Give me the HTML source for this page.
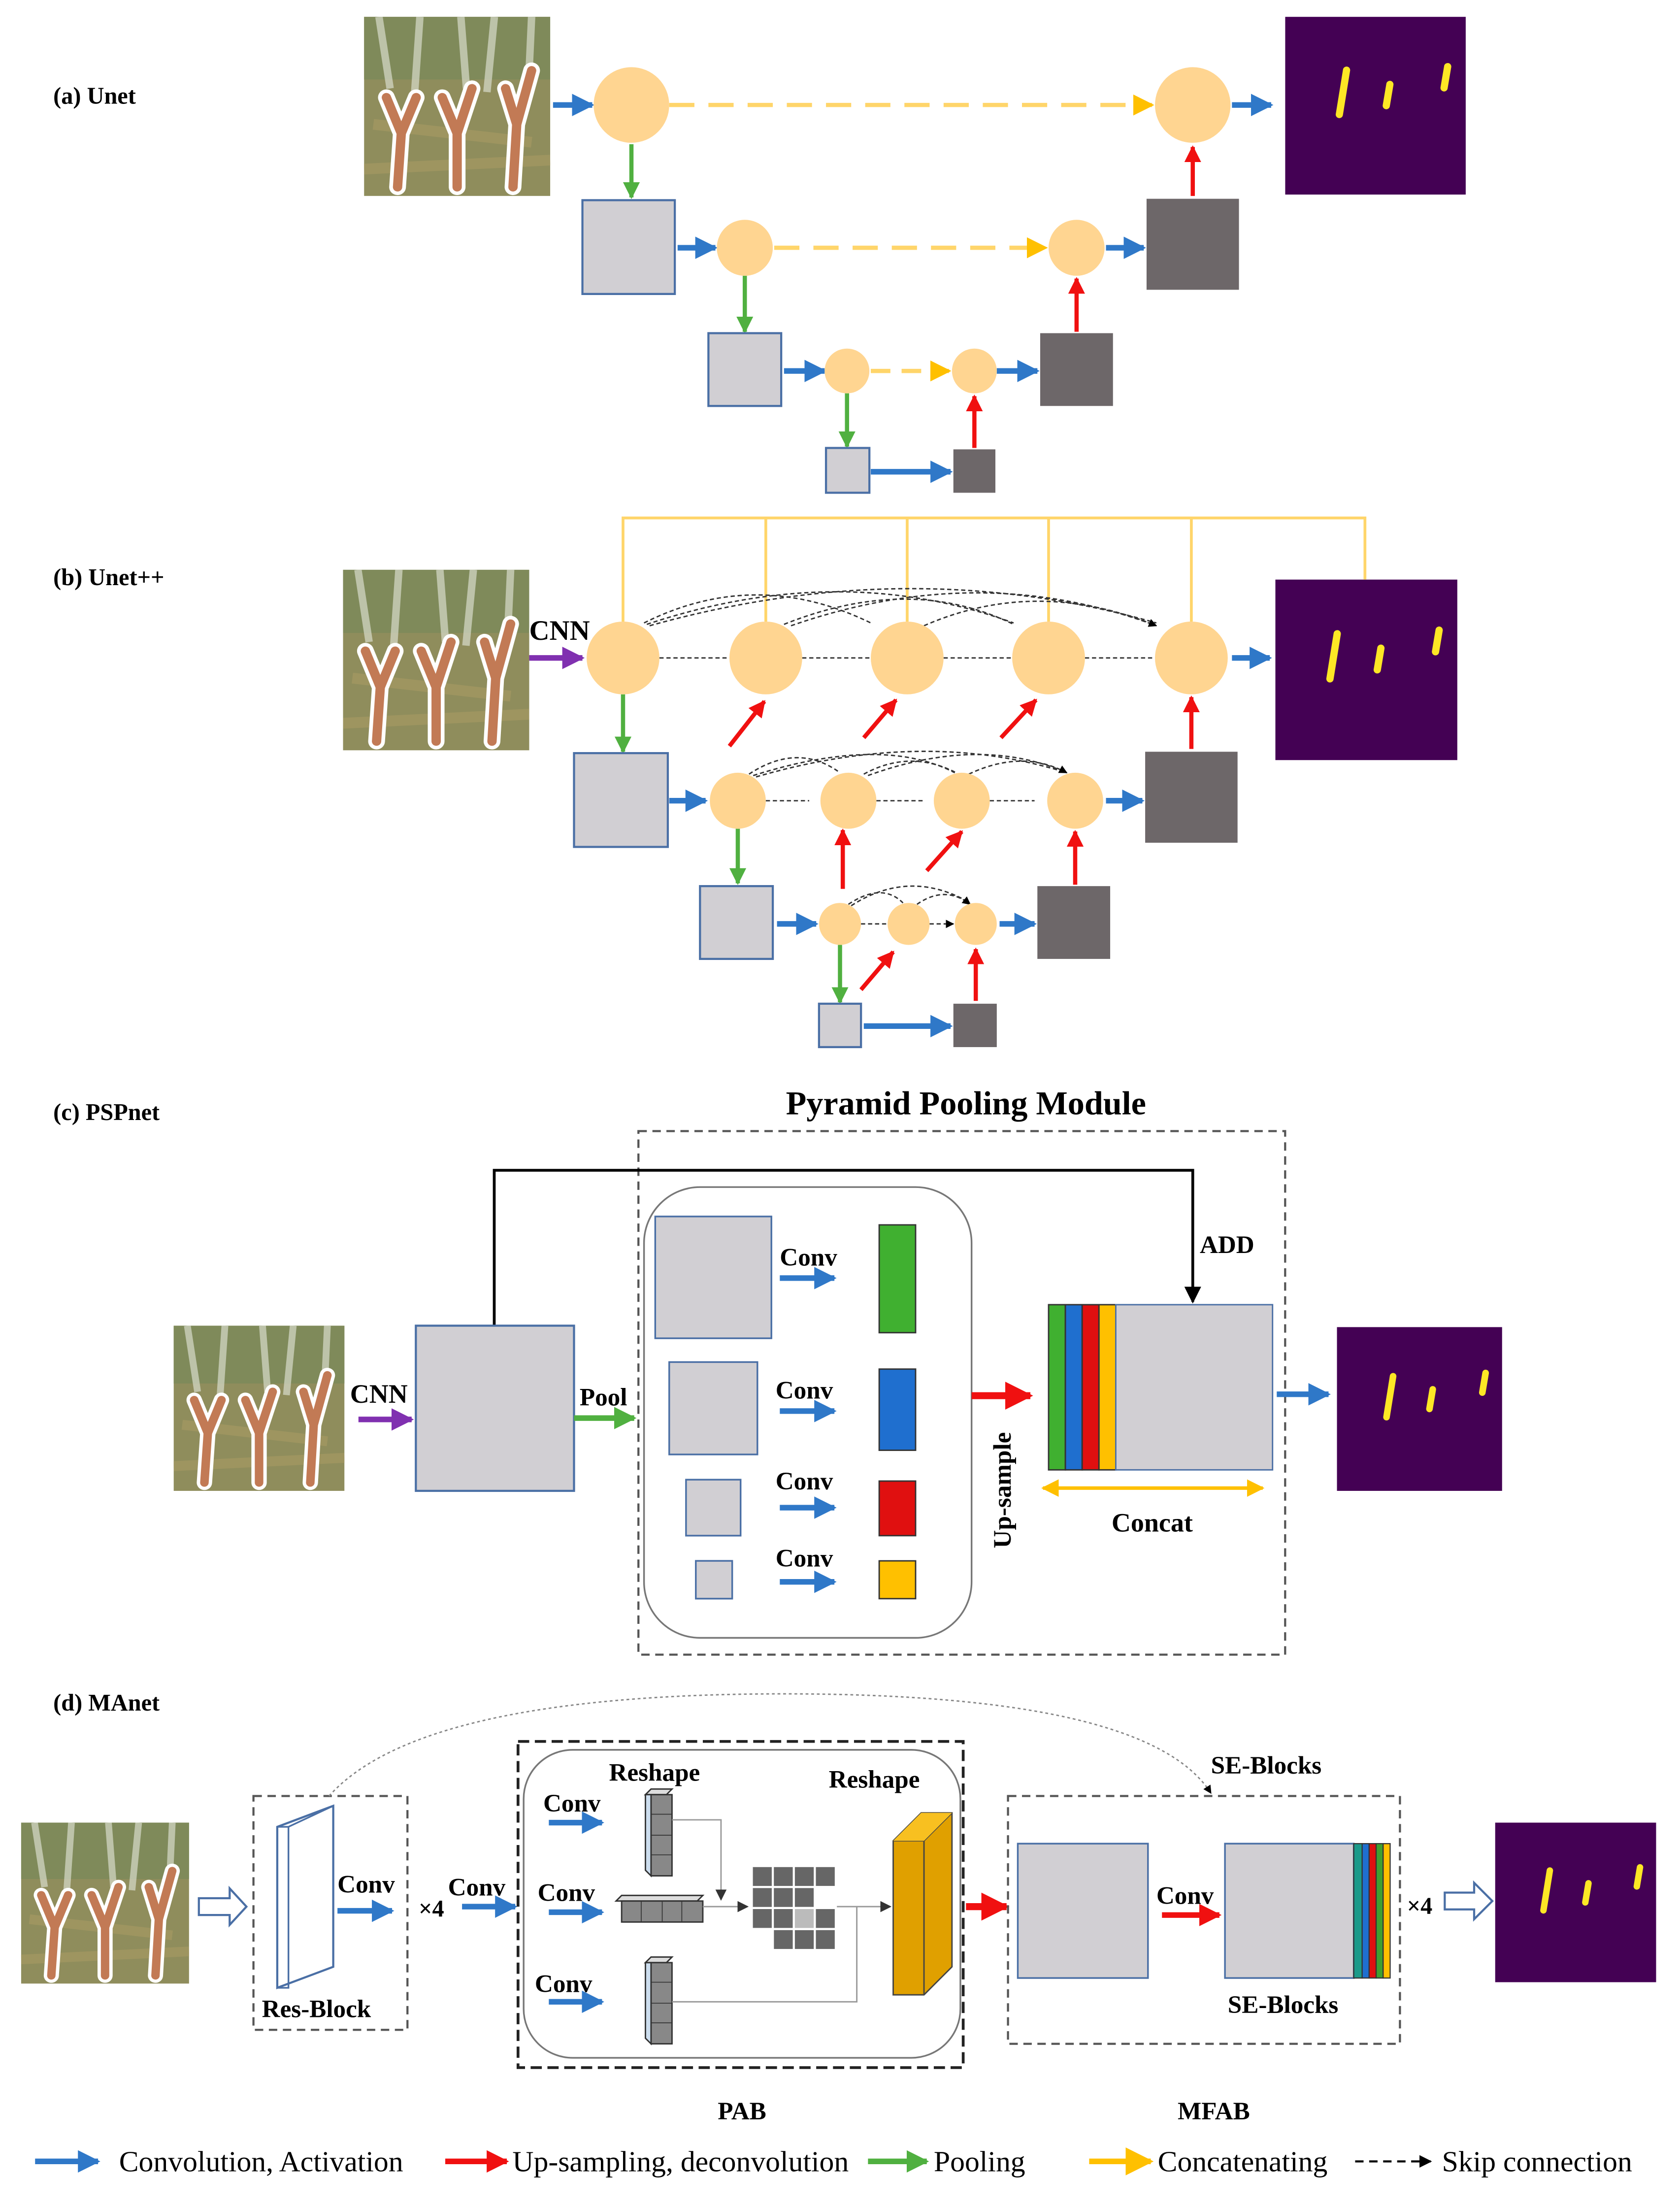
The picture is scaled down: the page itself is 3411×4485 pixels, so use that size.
<!DOCTYPE html>
<html><head><meta charset="utf-8"><style>html,body{margin:0;padding:0;background:#fff}svg{display:block}</style></head>
<body>
<svg xmlns="http://www.w3.org/2000/svg" width="3411" height="4485" viewBox="0 0 1200 1578" font-family="Liberation Serif, serif">
<defs>
<marker id="mb" viewBox="0 0 10 10" refX="9" refY="5" markerWidth="4" markerHeight="4" orient="auto"><path d="M0,0L10,5L0,10z" fill="#2f78c8"/></marker>
<marker id="mr" viewBox="0 0 10 10" refX="9" refY="5" markerWidth="4" markerHeight="4" orient="auto"><path d="M0,0L10,5L0,10z" fill="#f01010"/></marker>
<marker id="mg" viewBox="0 0 10 10" refX="9" refY="5" markerWidth="4" markerHeight="4" orient="auto"><path d="M0,0L10,5L0,10z" fill="#50b040"/></marker>
<marker id="my" viewBox="0 0 10 10" refX="9" refY="5" markerWidth="5" markerHeight="5" orient="auto"><path d="M0,0L10,5L0,10z" fill="#ffc000"/></marker>
<marker id="mys" viewBox="0 0 10 10" refX="1" refY="5" markerWidth="5" markerHeight="5" orient="auto"><path d="M10,0L0,5L10,10z" fill="#ffc000"/></marker>
<marker id="mp" viewBox="0 0 10 10" refX="9" refY="5" markerWidth="4" markerHeight="4" orient="auto"><path d="M0,0L10,5L0,10z" fill="#8030b0"/></marker>
<marker id="mk" viewBox="0 0 10 10" refX="9" refY="5" markerWidth="6" markerHeight="6" orient="auto"><path d="M0,0L10,5L0,10z" fill="#000"/></marker>
<marker id="mk2" viewBox="0 0 10 10" refX="9" refY="5" markerWidth="8" markerHeight="8" orient="auto"><path d="M0,0L10,5L0,10z" fill="#333"/></marker>
<symbol id="field" viewBox="0 0 100 100" preserveAspectRatio="none">
<rect width="100" height="100" fill="#8f8d5c"/>
<rect y="0" width="100" height="35" fill="#7f8a5a"/>
<path d="M8,0L14,40M30,0L27,45M52,0L55,40M70,0L66,42M90,0L88,45" stroke="#d8dccb" stroke-width="4" opacity=".7"/>
<path d="M5,60L90,70M0,85L100,80" stroke="#a99b63" stroke-width="6" opacity=".6"/>
<g fill="none" stroke="#fff" stroke-width="9" stroke-linecap="round"><path d="M18,95L20,65L12,45M20,65L28,45M50,95L50,65L42,45M50,65L58,40M80,95L82,60L76,40M82,60L90,30"/></g>
<g fill="none" stroke="#c27a55" stroke-width="5" stroke-linecap="round"><path d="M18,95L20,65L12,45M20,65L28,45M50,95L50,65L42,45M50,65L58,40M80,95L82,60L76,40M82,60L90,30"/></g>
</symbol>
<symbol id="outp" viewBox="0 0 100 100" preserveAspectRatio="none">
<rect width="100" height="100" fill="#440154"/>
<g stroke="#fde725" stroke-width="4" stroke-linecap="round"><path d="M30,55L34,30M56,50L58,38M88,40L90,28"/></g>
</symbol>
</defs>
<rect width="1200" height="1578" fill="#fff"/>
<g font-weight="bold" font-size="17">
<text x="38" y="74">(a) Unet</text>
<text x="38" y="418">(b) Unet++</text>
<text x="38" y="800">(c) PSPnet</text>
<text x="38" y="1222">(d) MAnet</text>
</g>

<!-- (a) -->
<use href="#field" x="260" y="12" width="133" height="128"/>
<use href="#outp" x="918" y="12" width="129" height="127"/>
<g stroke-width="4" fill="none">
<path d="M395,75H423" stroke="#2f78c8" marker-end="url(#mb)"/>
<path d="M880,75H908" stroke="#2f78c8" marker-end="url(#mb)"/>
<path d="M484,177H511" stroke="#2f78c8" marker-end="url(#mb)"/>
<path d="M790,177H817" stroke="#2f78c8" marker-end="url(#mb)"/>
<path d="M560,265H589" stroke="#2f78c8" marker-end="url(#mb)"/>
<path d="M712,265H741" stroke="#2f78c8" marker-end="url(#mb)"/>
<path d="M622,337H679" stroke="#2f78c8" marker-end="url(#mb)"/>
</g>
<g stroke-width="3" fill="none">
<path d="M451,103V141" stroke="#50b040" marker-end="url(#mg)"/>
<path d="M532,197V237" stroke="#50b040" marker-end="url(#mg)"/>
<path d="M605,281V319" stroke="#50b040" marker-end="url(#mg)"/>
<path d="M852,140V105" stroke="#f01010" marker-end="url(#mr)"/>
<path d="M769,237V199" stroke="#f01010" marker-end="url(#mr)"/>
<path d="M696,320V283" stroke="#f01010" marker-end="url(#mr)"/>
<path d="M478,75H823" stroke="#ffd56a" stroke-dasharray="18,10" marker-end="url(#my)"/>
<path d="M553,177H747" stroke="#ffd56a" stroke-dasharray="18,10" marker-end="url(#my)"/>
<path d="M622,265H678" stroke="#ffd56a" stroke-dasharray="14,8" marker-end="url(#my)"/>
</g>
<g fill="#ffd591">
<circle cx="451" cy="75" r="27"/><circle cx="852" cy="75" r="27"/>
<circle cx="532" cy="177" r="20"/><circle cx="769" cy="177" r="20"/>
<circle cx="605" cy="265" r="16"/><circle cx="696" cy="265" r="16"/>
</g>
<g fill="#d1cfd3" stroke="#4a6fa5" stroke-width="1.5">
<rect x="416" y="143" width="66" height="67"/><rect x="506" y="238" width="52" height="52"/><rect x="590" y="320" width="31" height="32"/>
</g>
<g fill="#6d6769"><rect x="819" y="142" width="66" height="65"/><rect x="743" y="238" width="52" height="52"/><rect x="681" y="321" width="30" height="31"/></g>

<!-- (b) -->
<use href="#field" x="245" y="407" width="133" height="129"/>
<use href="#outp" x="911" y="414" width="130" height="129"/>
<path d="M445,444V370H975V414M547,370V444M648,370V444M749,370V444M851,370V444" stroke="#ffd56a" stroke-width="2" fill="none"/>
<text x="378" y="457" font-size="20" font-weight="bold">CNN</text>
<path d="M378,470H416" stroke="#8030b0" stroke-width="4" marker-end="url(#mp)"/>
<g stroke="#333" stroke-width="1" fill="none" stroke-dasharray="3,2">
<path d="M471,470H520M573,470H621M674,470H722M775,470H824M547,572H578M626,572H659M707,572H739M615,660H633M664,660H681" marker-end="url(#mk)"/>
<path d="M460,445Q540,405 622,445M462,446Q600,400 724,445M464,447Q650,395 826,445M560,446Q650,410 724,446M565,447Q700,400 826,447M660,447Q740,412 826,447" marker-end="url(#mk)"/>
<path d="M535,553Q570,530 600,552M538,554Q630,525 682,552M540,555Q660,520 762,552M617,553Q650,535 683,552M620,554Q700,525 762,552M692,553Q730,535 762,552" marker-end="url(#mk)"/>
<path d="M606,646Q630,630 645,645M608,647Q650,620 693,645M655,646Q675,632 693,646" marker-end="url(#mk)"/>
</g>
<g stroke-width="4" fill="none">
<path d="M880,470H907" stroke="#2f78c8" marker-end="url(#mb)"/>
<path d="M478,572H504" stroke="#2f78c8" marker-end="url(#mb)"/>
<path d="M790,572H816" stroke="#2f78c8" marker-end="url(#mb)"/>
<path d="M555,660H583" stroke="#2f78c8" marker-end="url(#mb)"/>
<path d="M714,660H739" stroke="#2f78c8" marker-end="url(#mb)"/>
<path d="M617,733H679" stroke="#2f78c8" marker-end="url(#mb)"/>
</g>
<g stroke-width="3" fill="none">
<path d="M445,496V537" stroke="#50b040" marker-end="url(#mg)"/>
<path d="M527,592V631" stroke="#50b040" marker-end="url(#mg)"/>
<path d="M600,675V716" stroke="#50b040" marker-end="url(#mg)"/>
<g stroke="#f01010" marker-end="url(#mr)">
<path d="M851,535V498"/><path d="M521,533L546,501"/><path d="M617,527L640,500"/><path d="M715,527L740,500"/>
<path d="M602,635V593"/><path d="M662,622L687,594"/><path d="M768,632V594"/>
<path d="M697,715V678"/><path d="M615,707L638,680"/>
</g></g>
<g fill="#ffd591">
<circle cx="445" cy="470" r="26"/><circle cx="547" cy="470" r="26"/><circle cx="648" cy="470" r="26"/><circle cx="749" cy="470" r="26"/><circle cx="851" cy="470" r="26"/>
<circle cx="527" cy="572" r="20"/><circle cx="606" cy="572" r="20"/><circle cx="687" cy="572" r="20"/><circle cx="768" cy="572" r="20"/>
<circle cx="600" cy="660" r="15"/><circle cx="649" cy="660" r="15"/><circle cx="697" cy="660" r="15"/>
</g>
<g fill="#d1cfd3" stroke="#4a6fa5" stroke-width="1.5">
<rect x="410" y="538" width="67" height="67"/><rect x="500" y="633" width="52" height="52"/><rect x="585" y="717" width="30" height="31"/>
</g>
<g fill="#6d6769"><rect x="818" y="537" width="66" height="65"/><rect x="741" y="633" width="52" height="52"/><rect x="681" y="717" width="31" height="31"/></g>

<!-- (c) -->
<text x="690" y="796" font-size="24" font-weight="bold" text-anchor="middle">Pyramid Pooling Module</text>
<rect x="456" y="808" width="462" height="374" fill="none" stroke="#555" stroke-width="1.5" stroke-dasharray="6,4"/>
<path d="M353,947V836H852V930" stroke="#000" stroke-width="2" fill="none" marker-end="url(#mk)"/>
<text x="857" y="895" font-size="18" font-weight="bold">ADD</text>
<use href="#field" x="124" y="947" width="122" height="118"/>
<text x="250" y="1002" font-size="19" font-weight="bold">CNN</text>
<path d="M256,1014H294" stroke="#8030b0" stroke-width="4" marker-end="url(#mp)"/>
<rect x="297" y="947" width="113" height="118" fill="#d1cfd3" stroke="#4a6fa5" stroke-width="1.5"/>
<text x="414" y="1004" font-size="18" font-weight="bold">Pool</text>
<path d="M410,1013H453" stroke="#50b040" stroke-width="4" marker-end="url(#mg)"/>
<rect x="460" y="848" width="234" height="322" rx="40" fill="none" stroke="#777" stroke-width="1.2"/>
<g fill="#d1cfd3" stroke="#4a6fa5" stroke-width="1.2">
<rect x="468" y="869" width="83" height="87"/><rect x="478" y="973" width="63" height="66"/><rect x="490" y="1057" width="39" height="40"/><rect x="497" y="1115" width="26" height="27"/>
</g>
<g font-size="18" font-weight="bold"><text x="557" y="904">Conv</text><text x="554" y="999">Conv</text><text x="554" y="1064">Conv</text><text x="554" y="1119">Conv</text></g>
<g stroke="#2f78c8" stroke-width="4" marker-end="url(#mb)"><path d="M557,913H596"/><path d="M557,1008H596"/><path d="M557,1077H596"/><path d="M557,1130H596"/></g>
<g stroke="#333" stroke-width="1"><rect x="628" y="875" width="26" height="77" fill="#40b030"/><rect x="628" y="978" width="26" height="58" fill="#1f6fcf"/><rect x="628" y="1058" width="26" height="39" fill="#e01010"/><rect x="628" y="1115" width="26" height="27" fill="#ffc000"/></g>
<path d="M694,997H736" stroke="#f01010" stroke-width="5" marker-end="url(#mr)"/>
<text transform="translate(722,1106) rotate(-90)" font-size="18" font-weight="bold">Up-sample</text>
<g stroke="#333" stroke-width="1"><rect x="749" y="932" width="12" height="118" fill="#40b030"/><rect x="761" y="932" width="12" height="118" fill="#1f6fcf"/><rect x="773" y="932" width="12" height="118" fill="#e01010"/><rect x="785" y="932" width="12" height="118" fill="#ffc000"/><rect x="797" y="932" width="112" height="118" fill="#d1cfd3" stroke="#4a6fa5"/></g>
<path d="M745,1063H902" stroke="#ffc000" stroke-width="2.5" marker-end="url(#my)" marker-start="url(#mys)"/>
<text x="823" y="1094" font-size="19" font-weight="bold" text-anchor="middle">Concat</text>
<path d="M912,996H949" stroke="#2f78c8" stroke-width="4" marker-end="url(#mb)"/>
<use href="#outp" x="955" y="948" width="118" height="117"/>

<!-- (d) -->
<use href="#field" x="15" y="1302" width="120" height="115"/>
<path d="M142,1356H164V1349L176,1362L164,1375V1368H142Z" fill="#fff" stroke="#4a6fa5" stroke-width="1.5"/>
<rect x="181" y="1283" width="110" height="167" fill="none" stroke="#555" stroke-width="1.5" stroke-dasharray="6,4"/>
<path d="M198,1305L238,1290V1405L198,1420Z" fill="#fff" stroke="#4a6fa5" stroke-width="1.5"/>
<path d="M198,1305H206L238,1290" fill="none" stroke="#4a6fa5" stroke-width="1.2"/><path d="M206,1305V1420H198" fill="none" stroke="#4a6fa5" stroke-width="1.2"/>
<text x="187" y="1441" font-size="18" font-weight="bold">Res-Block</text>
<text x="241" y="1352" font-size="18" font-weight="bold">Conv</text>
<path d="M241,1365H280" stroke="#2f78c8" stroke-width="4" marker-end="url(#mb)"/>
<text x="299" y="1369" font-size="17" font-weight="bold">×4</text>
<text x="320" y="1354" font-size="18" font-weight="bold">Conv</text>
<path d="M330,1362H368" stroke="#2f78c8" stroke-width="4" marker-end="url(#mb)"/>
<path d="M235,1283Q300,1210 560,1210Q820,1210 865,1281" fill="none" stroke="#888" stroke-width="1" stroke-dasharray="2,2" marker-end="url(#mk)"/>
<text x="865" y="1267" font-size="18" font-weight="bold">SE-Blocks</text>
<rect x="370" y="1244" width="318" height="233" fill="none" stroke="#222" stroke-width="2" stroke-dasharray="8,4"/>
<rect x="374" y="1250" width="312" height="220" rx="35" fill="none" stroke="#777" stroke-width="1.2"/>
<g font-size="18" font-weight="bold"><text x="435" y="1272">Reshape</text><text x="592" y="1277">Reshape</text><text x="388" y="1294">Conv</text><text x="384" y="1358">Conv</text><text x="382" y="1423">Conv</text></g>
<g stroke="#2f78c8" stroke-width="4" marker-end="url(#mb)"><path d="M392,1302H430"/><path d="M392,1366H430"/><path d="M392,1430H430"/></g>
<g fill="#888" stroke="#333" stroke-width="1">
<path d="M461,1282L465,1278H480L476,1282Z" fill="#ddd"/><rect x="465" y="1282" width="15" height="58"/><path d="M461,1282V1336L465,1340V1282Z" fill="#cde"/>
<path d="M440,1358L444,1354H502L498,1358Z" fill="#ddd"/><rect x="444" y="1358" width="58" height="15"/>
<path d="M461,1402L465,1398H480L476,1402Z" fill="#ddd"/><rect x="465" y="1402" width="15" height="58"/><path d="M461,1402V1456L465,1460V1402Z" fill="#cde"/>
</g>
<g stroke="#333" stroke-width=".6"><path d="M465,1296H480M465,1311H480M465,1325H480M458,1358V1373M473,1358V1373M487,1358V1373M465,1416H480M465,1431H480M465,1445H480"/></g>
<g fill="none" stroke="#999" stroke-width="1"><path d="M480,1300H515V1357" marker-end="url(#mk2)"/><path d="M502,1362H534" marker-end="url(#mk2)"/><path d="M480,1430H612V1362" /><path d="M597,1362H636" marker-end="url(#mk2)"/></g>
<g stroke="#fff" stroke-width="1.5" fill="#666">
<rect x="537" y="1333" width="60" height="60"/>
<path d="M552,1333V1393M567,1333V1393M582,1333V1393M537,1348H597M537,1363H597M537,1378H597" fill="none"/>
<rect x="582" y="1348" width="15" height="15" fill="#fff"/><rect x="537" y="1378" width="15" height="15" fill="#fff"/><rect x="567" y="1363" width="15" height="15" fill="#bbb"/>
</g>
<path d="M638,1315L658,1295H680V1405L660,1425H638Z" fill="#e0a000" stroke="#444" stroke-width="1"/>
<path d="M638,1315H660L680,1295M660,1315V1425" fill="none" stroke="#444" stroke-width="1"/>
<path d="M638,1315L658,1295H680L660,1315Z" fill="#f8c020"/>
<path d="M690,1362H719" stroke="#f01010" stroke-width="5" marker-end="url(#mr)"/>
<rect x="720" y="1283" width="280" height="177" fill="none" stroke="#555" stroke-width="1.5" stroke-dasharray="6,4"/>
<rect x="727" y="1317" width="93" height="96" fill="#d1cfd3" stroke="#4a6fa5" stroke-width="1.2"/>
<text x="826" y="1360" font-size="18" font-weight="bold">Conv</text>
<path d="M830,1368H871" stroke="#f01010" stroke-width="4" marker-end="url(#mr)"/>
<rect x="875" y="1317" width="92" height="96" fill="#d1cfd3" stroke="#4a6fa5" stroke-width="1.2"/>
<g stroke="#333" stroke-width=".8"><rect x="967" y="1317" width="6" height="96" fill="#1a9a8a"/><rect x="973" y="1317" width="5" height="96" fill="#1f6fcf"/><rect x="978" y="1317" width="5" height="96" fill="#e01010"/><rect x="983" y="1317" width="5" height="96" fill="#40a030"/><rect x="988" y="1317" width="5" height="96" fill="#ffc000"/></g>
<text x="877" y="1438" font-size="18" font-weight="bold">SE-Blocks</text>
<text x="1005" y="1367" font-size="17" font-weight="bold">×4</text>
<path d="M1032,1352H1053V1345L1066,1358L1053,1371V1364H1032Z" fill="#fff" stroke="#4a6fa5" stroke-width="1.5"/>
<use href="#outp" x="1068" y="1302" width="115" height="114"/>
<text x="530" y="1514" font-size="18" font-weight="bold" text-anchor="middle">PAB</text>
<text x="867" y="1514" font-size="18" font-weight="bold" text-anchor="middle">MFAB</text>

<!-- legend -->
<g font-size="21">
<path d="M25,1544H70" stroke="#2f78c8" stroke-width="4" marker-end="url(#mb)"/><text x="85" y="1551">Convolution, Activation</text>
<path d="M318,1544H362" stroke="#f01010" stroke-width="4" marker-end="url(#mr)"/><text x="366" y="1551">Up-sampling, deconvolution</text>
<path d="M620,1544H662" stroke="#50b040" stroke-width="4" marker-end="url(#mg)"/><text x="667" y="1551">Pooling</text>
<path d="M778,1544H822" stroke="#ffc000" stroke-width="4" marker-end="url(#my)"/><text x="827" y="1551">Concatenating</text>
<path d="M968,1544H1022" stroke="#000" stroke-width="1.5" stroke-dasharray="6,4" marker-end="url(#mk)"/><text x="1030" y="1551">Skip connection</text>
</g>
</svg>
</body></html>
